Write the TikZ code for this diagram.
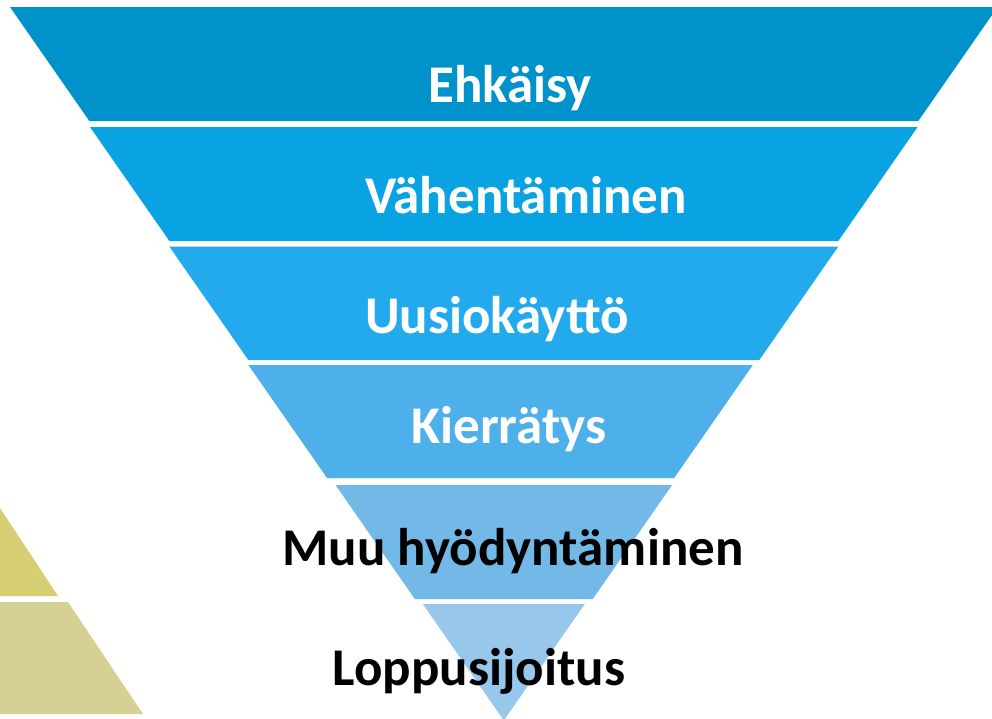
\documentclass[tikz,border=0pt]{standalone}
\usepackage{fontspec}
\setmainfont{Carlito}

\definecolor{tierA}{HTML}{0093CB}
\definecolor{tierB}{HTML}{09A3E3}
\definecolor{tierC}{HTML}{22AAED}
\definecolor{tierD}{HTML}{4DB0EA}
\definecolor{tierE}{HTML}{72B9E8}
\definecolor{tierF}{HTML}{98C7EC}
\definecolor{oliveA}{HTML}{D6CE72}
\definecolor{oliveB}{HTML}{D5D194}

% centre, top, bottom, half width at top, colour
\newcommand{\wband}[5]{
	\pgfmathsetmacro{\WBcx}{#1}
	\pgfmathsetmacro{\WBya}{#2}
	\pgfmathsetmacro{\WByb}{#3}
	\pgfmathsetmacro{\WBha}{#4}
	\pgfmathsetmacro{\WBhb}{max(0, \WBha - 0.696 * (\WByb - \WBya))}
	\fill[color=#5] (\WBcx - \WBha, \WBya) -- (\WBcx + \WBha, \WBya) -- (\WBcx + \WBhb, \WByb) -- (\WBcx - \WBhb, \WByb) -- cycle;
}

\tikzset{
	tierlbl/.style={anchor=base, inner sep=0pt, font=\fontsize{53}{60}\selectfont\bfseries}
}

\begin{document}
\begin{tikzpicture}[x=1pt, y=-1pt]
\useasboundingbox (0,0) rectangle (992,718);
\clip (0,0) rectangle (992,718);

% pyramid at the left edge
\fill[oliveA] (0,508) -- (58,596) -- (0,596) -- cycle;
\fill[oliveB] (0,602) -- (68,602) -- (143,714) -- (0,714) -- cycle;

\wband{503.8}{7}{121}{493.8}{tierA}
\wband{503.8}{127}{241}{413.8}{tierB}
\wband{503.8}{246.5}{360}{334.5}{tierC}
\wband{500.6}{365}{478}{252.2}{tierD}
\wband{503.8}{485}{599}{168.3}{tierE}
\wband{503.8}{604}{720}{81}{tierF}

\node[tierlbl, text=white] (ehkaisy) at (510,102) {Ehkäisy};
\node[tierlbl, text=white] (vahent) at (526,213) {Vähentäminen};
\node[tierlbl, text=white] (uusio) at (497,333) {Uusiokäyttö};
\node[tierlbl, text=white] (kierr) at (509,443) {Kierrätys};
\node[tierlbl, text=black] (muuhyod) at (513,565) {Muu hyödyntäminen};
\node[tierlbl, text=black] (loppus) at (479,685) {Loppusijoitus};
\end{tikzpicture}
\end{document}
